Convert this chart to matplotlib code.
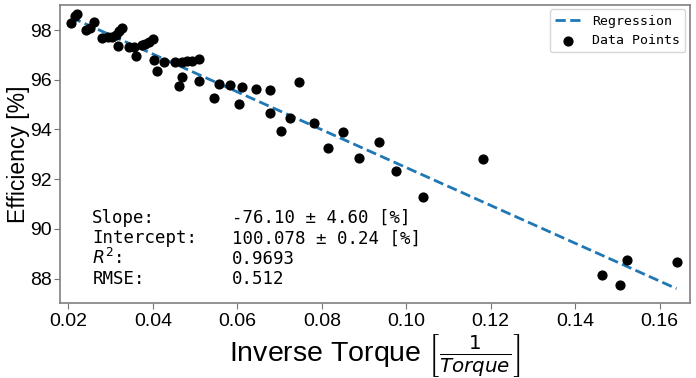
import numpy as np
import matplotlib
matplotlib.use('Agg')
import matplotlib.pyplot as plt

# inverse torque [1/Torque] and efficiency [%]
inv_torque = [0.02064, 0.02147, 0.02194, 0.02407, 0.02502, 0.02596, 0.02786, 0.0294,
              0.03034, 0.03129, 0.0320, 0.03259, 0.03165, 0.03425, 0.03555, 0.0359,
              0.03733, 0.03815, 0.0391, 0.03993, 0.04028, 0.04088, 0.04265, 0.04525,
              0.04684, 0.04802, 0.04935, 0.0510, 0.04698, 0.0462, 0.0510, 0.05449,
              0.0556, 0.05827, 0.06111, 0.06028, 0.06431, 0.06781, 0.06774, 0.07034,
              0.07248, 0.0746, 0.07816, 0.08495, 0.0814, 0.08873, 0.09354, 0.09749,
              0.10388, 0.11822, 0.14639, 0.15217, 0.15065, 0.1640]
efficiency = [98.30, 98.56, 98.66, 98.02, 98.10, 98.32, 97.66, 97.72,
              97.74, 97.80, 97.96, 98.10, 97.36, 97.30, 97.32, 96.97,
              97.40, 97.44, 97.52, 97.62, 96.79, 96.35, 96.73, 96.71,
              96.73, 96.74, 96.77, 96.82, 96.10, 95.75, 95.95, 95.27,
              95.82, 95.77, 95.71, 95.02, 95.64, 95.60, 94.67, 93.93,
              94.47, 95.89, 94.27, 93.90, 93.27, 92.84, 93.50, 92.34,
              91.29, 92.80, 88.16, 88.75, 87.75, 88.67]

# fit results shown in the box
slope, slope_err = -76.10, 4.60
intercept, intercept_err = 100.078, 0.24
r2 = 0.9693
rmse = 0.512

stat_names = ['Slope:', 'Intercept:', '$R^2$:', 'RMSE:']
stat_values = [f'{slope:.2f} ± {slope_err:.2f} [%]',
               f'{intercept:.3f} ± {intercept_err:.2f} [%]',
               f'{r2:.4f}',
               f'{rmse:.3f}']

plt.rcParams['mathtext.fontset'] = 'dejavusans'

fig = plt.figure(figsize=(6.96, 3.78), dpi=100)
ax = fig.add_axes([0.0862, 0.1984, 0.9052, 0.7892])

x = np.array(inv_torque)
xl = np.linspace(x.min(), x.max(), 2)
ax.plot(xl, slope * xl + intercept, '--', color='#1f77b4', lw=2, label='Regression')
ax.scatter(inv_torque, efficiency, s=40, color='black', zorder=3, label='Data Points')

ax.set_xlim(0.018, 0.1672)
ax.set_ylim(87.02, 99.02)
ax.set_xticks([0.02, 0.04, 0.06, 0.08, 0.10, 0.12, 0.14, 0.16])
ax.set_yticks([88, 90, 92, 94, 96, 98])

for lab in ax.get_xticklabels() + ax.get_yticklabels():
    lab.set_fontfamily('Liberation Sans')
    lab.set_fontsize(14)
ax.tick_params(color='0.45', length=4)
ax.tick_params(axis='y', pad=2)
for sp in ax.spines.values():
    sp.set_color('0.5')
    sp.set_linewidth(1.2)

ax.set_ylabel('Efficiency [%]', fontsize=16.5, family='Liberation Sans', labelpad=0)
ax.set_xlabel(r'Inverse Torque $\left[\frac{1}{Torque}\right]$', fontsize=20.5,
              family='Liberation Sans', labelpad=1)

# statistics box, one row at a time
for i, (name, val) in enumerate(zip(stat_names, stat_values)):
    yy = 0.268 - i * 0.068
    ax.text(0.0513, yy, name, transform=ax.transAxes, family='DejaVu Sans Mono',
            fontsize=12.5, va='baseline')
    ax.text(0.2735, yy, val, transform=ax.transAxes, family='DejaVu Sans Mono',
            fontsize=12.5, va='baseline')

ax.legend(loc='upper right', borderaxespad=0.35,
          prop={'family': 'DejaVu Sans Mono', 'size': 9.5})

plt.savefig('out.png', dpi=100)
